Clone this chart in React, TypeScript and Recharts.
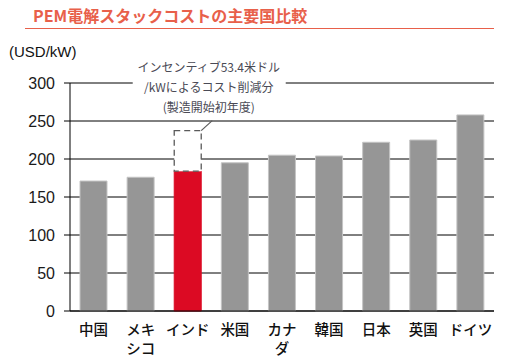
import React from 'react';
import { BarChart, Bar, XAxis, YAxis, CartesianGrid, Cell, LabelList } from 'recharts';

const countries = ['中国', 'メキ\nシコ', 'インド', '米国', 'カナ\nダ', '韓国', '日本', '英国', 'ドイツ'];
const stackCost = [171, 176, 184, 195, 205, 204, 222, 225, 258];
const incentive = [null, null, 53.4, null, null, null, null, null, null];
const yTicks = [0, 50, 100, 150, 200, 250, 300];
const highlight = 'インド';
const calloutLines = ['インセンティブ53.4米ドル', '/kWによるコスト削減分', '(製造開始初年度)'];

const chartData = countries.map((c, i) => ({
    country: c,
    cost: stackCost[i],
    incentive: incentive[i],
}));

const JP_FONT = '"Noto Sans CJK JP", "Noto Sans", sans-serif';
const LATIN_FONT = '"Liberation Sans", Arial, sans-serif';

const CountryTick = (props: any) => {
    const { x, y, payload } = props;
    const lines = String(payload.value).split('\n');
    return (
        <g>
            {lines.map((line, i) => (
                <text key={i} x={x} y={y + 16 + i * 19} textAnchor="middle" fontSize={14.5} fontWeight={500}
                    fontFamily={JP_FONT} fill="#111">
                    {line}
                </text>
            ))}
        </g>
    );
};

const Callout = (props: any) => {
    const { x, y, width, value } = props;
    if (value === null || value === undefined) return null;
    const cx = x + width / 2 + 21;
    return (
        <g>
            <rect x={cx - 76} y={y - 74} width={153} height={52} fill="#fff" />
            {calloutLines.map((line, i) => (
                <text key={i} x={cx} y={y - 59 + i * 20} textAnchor="middle" fontSize={12}
                    fontFamily={JP_FONT} fill="#4a4a55">
                    {line}
                </text>
            ))}
            <line x1={x + width} y1={y} x2={x + width + 11} y2={y - 10} stroke="#5a5a5a" strokeWidth={1.2} />
        </g>
    );
};

export default function App() {
    return (
        <div style={{ position: 'absolute', left: 0, top: 0, width: 517, height: 363, background: '#fff' }}>
            <div style={{
                position: 'absolute', left: 33, top: 4, fontSize: 16, fontWeight: 700,
                fontFamily: JP_FONT, color: '#e8604a', lineHeight: '22px', whiteSpace: 'nowrap',
            }}>
                PEM電解スタックコストの主要国比較
            </div>
            <div style={{ position: 'absolute', left: 25, top: 28, width: 469, height: 1, background: '#e8604a' }} />
            <div style={{
                position: 'absolute', left: 9, top: 43, fontSize: 15,
                fontFamily: LATIN_FONT, color: '#111', lineHeight: '18px',
            }}>
                (USD/kW)
            </div>
            <BarChart width={517} height={363} data={chartData} barSize={27}
                margin={{ top: 83, right: 23, left: 20, bottom: 2 }}>
                <CartesianGrid vertical={false} stroke="#000" strokeWidth={1} />
                <XAxis dataKey="country" interval={0} tickLine={false} axisLine={{ stroke: '#000' }}
                    height={50} tick={<CountryTick />} />
                <YAxis domain={[0, 300]} ticks={yTicks} width={50} tickSize={6} tickMargin={9}
                    axisLine={{ stroke: '#000' }} tickLine={{ stroke: '#000' }}
                    tick={{ fontSize: 16, fill: '#1a1a1a', fontFamily: LATIN_FONT }} />
                <Bar dataKey="cost" stackId="a" isAnimationActive={false} stroke="#c4c4c4" strokeWidth={1}>
                    {chartData.map((d) => (
                        <Cell key={d.country} fill={d.country === highlight ? '#dc0a23' : '#969696'}
                            stroke={d.country === highlight ? '#dc0a23' : '#c4c4c4'} />
                    ))}
                </Bar>
                <Bar dataKey="incentive" stackId="a" isAnimationActive={false} fill="#fff"
                    stroke="#5a5a5a" strokeWidth={1.3} strokeDasharray="6 4">
                    <LabelList dataKey="incentive" content={<Callout />} />
                </Bar>
            </BarChart>
        </div>
    );
}
